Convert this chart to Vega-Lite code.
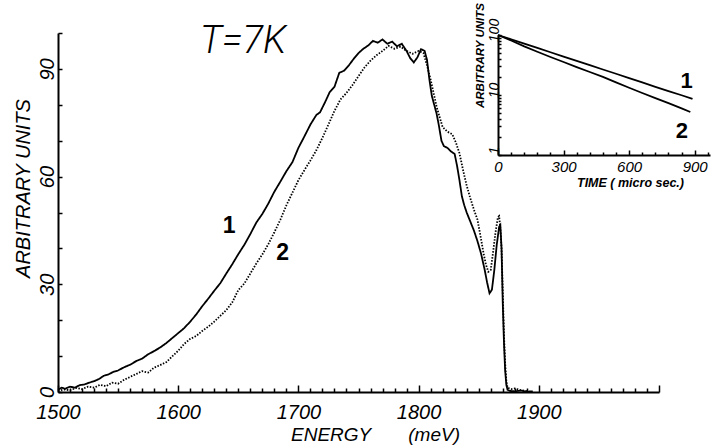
{
  "$schema": "https://vega.github.io/schema/vega-lite/v6.json",
  "width": 601,
  "height": 359,
  "autosize": {"type": "none"},
  "padding": {"left": 58, "top": 33, "right": 56, "bottom": 56},
  "background": "white",
  "config": {
    "view": {"stroke": null},
    "axis": {
      "grid": false,
      "domainColor": "black",
      "domainWidth": 2,
      "tickColor": "black",
      "tickWidth": 1.5,
      "labelColor": "black",
      "titleColor": "black",
      "labelFont": "Liberation Sans",
      "labelFontStyle": "italic",
      "titleFont": "Liberation Sans",
      "titleFontStyle": "italic",
      "titleFontWeight": "normal",
      "labelFlush": false,
      "labelOverlap": false,
      "labelBound": false
    }
  },
  "datasets": {
    "spectrum": [
      {"series": "1", "E": 1500, "V": 0.6}, {"series": "1", "E": 1503, "V": 1.2}, {"series": "1", "E": 1506, "V": 0.9}, {"series": "1", "E": 1510, "V": 1.5},
      {"series": "1", "E": 1514, "V": 1.2}, {"series": "1", "E": 1518, "V": 1.9}, {"series": "1", "E": 1522, "V": 2.1}, {"series": "1", "E": 1526, "V": 2.6},
      {"series": "1", "E": 1530, "V": 3.0}, {"series": "1", "E": 1534, "V": 3.6}, {"series": "1", "E": 1538, "V": 4.5}, {"series": "1", "E": 1542, "V": 4.9},
      {"series": "1", "E": 1546, "V": 5.6}, {"series": "1", "E": 1550, "V": 6.0}, {"series": "1", "E": 1555, "V": 6.9}, {"series": "1", "E": 1560, "V": 7.6},
      {"series": "1", "E": 1565, "V": 8.6}, {"series": "1", "E": 1570, "V": 9.3}, {"series": "1", "E": 1575, "V": 10.5}, {"series": "1", "E": 1580, "V": 11.4},
      {"series": "1", "E": 1585, "V": 12.4}, {"series": "1", "E": 1590, "V": 13.6}, {"series": "1", "E": 1595, "V": 15.0}, {"series": "1", "E": 1600, "V": 16.4},
      {"series": "1", "E": 1605, "V": 17.8}, {"series": "1", "E": 1610, "V": 19.6}, {"series": "1", "E": 1615, "V": 21.6}, {"series": "1", "E": 1620, "V": 23.9},
      {"series": "1", "E": 1625, "V": 26.0}, {"series": "1", "E": 1630, "V": 28.2}, {"series": "1", "E": 1635, "V": 30.3}, {"series": "1", "E": 1640, "V": 33.0},
      {"series": "1", "E": 1645, "V": 35.6}, {"series": "1", "E": 1650, "V": 38.4}, {"series": "1", "E": 1655, "V": 41.0}, {"series": "1", "E": 1660, "V": 44.0},
      {"series": "1", "E": 1665, "V": 47.2}, {"series": "1", "E": 1670, "V": 49.6}, {"series": "1", "E": 1675, "V": 52.5}, {"series": "1", "E": 1680, "V": 55.8},
      {"series": "1", "E": 1685, "V": 58.6}, {"series": "1", "E": 1690, "V": 61.5}, {"series": "1", "E": 1695, "V": 64.0}, {"series": "1", "E": 1700, "V": 68.0},
      {"series": "1", "E": 1705, "V": 71.2}, {"series": "1", "E": 1710, "V": 74.5}, {"series": "1", "E": 1715, "V": 77.2}, {"series": "1", "E": 1718, "V": 77.9},
      {"series": "1", "E": 1722, "V": 80.6}, {"series": "1", "E": 1726, "V": 83.5}, {"series": "1", "E": 1730, "V": 85.0}, {"series": "1", "E": 1734, "V": 88.9},
      {"series": "1", "E": 1738, "V": 89.5}, {"series": "1", "E": 1742, "V": 91.0}, {"series": "1", "E": 1746, "V": 92.8}, {"series": "1", "E": 1750, "V": 94.4},
      {"series": "1", "E": 1754, "V": 95.6}, {"series": "1", "E": 1758, "V": 96.5}, {"series": "1", "E": 1762, "V": 97.8}, {"series": "1", "E": 1766, "V": 97.3},
      {"series": "1", "E": 1770, "V": 98.2}, {"series": "1", "E": 1774, "V": 97.0}, {"series": "1", "E": 1778, "V": 97.6}, {"series": "1", "E": 1782, "V": 96.3},
      {"series": "1", "E": 1786, "V": 97.0}, {"series": "1", "E": 1790, "V": 95.0}, {"series": "1", "E": 1793, "V": 93.0}, {"series": "1", "E": 1796, "V": 91.8},
      {"series": "1", "E": 1799, "V": 93.2}, {"series": "1", "E": 1802, "V": 95.5}, {"series": "1", "E": 1805, "V": 95.0}, {"series": "1", "E": 1807, "V": 92.5},
      {"series": "1", "E": 1809, "V": 87.0}, {"series": "1", "E": 1811, "V": 82.5}, {"series": "1", "E": 1813, "V": 80.0}, {"series": "1", "E": 1815, "V": 77.5},
      {"series": "1", "E": 1817, "V": 74.0}, {"series": "1", "E": 1819, "V": 70.0}, {"series": "1", "E": 1821, "V": 68.5}, {"series": "1", "E": 1824, "V": 68.0},
      {"series": "1", "E": 1827, "V": 67.0}, {"series": "1", "E": 1830, "V": 66.3}, {"series": "1", "E": 1832, "V": 63.0}, {"series": "1", "E": 1834, "V": 59.0},
      {"series": "1", "E": 1836, "V": 54.5}, {"series": "1", "E": 1838, "V": 52.0}, {"series": "1", "E": 1840, "V": 50.0}, {"series": "1", "E": 1843, "V": 47.5},
      {"series": "1", "E": 1846, "V": 45.0}, {"series": "1", "E": 1849, "V": 42.0}, {"series": "1", "E": 1852, "V": 38.5}, {"series": "1", "E": 1855, "V": 34.0},
      {"series": "1", "E": 1857, "V": 30.5}, {"series": "1", "E": 1859, "V": 27.5}, {"series": "1", "E": 1861, "V": 28.5}, {"series": "1", "E": 1863, "V": 34.0},
      {"series": "1", "E": 1865, "V": 41.0}, {"series": "1", "E": 1867, "V": 46.0}, {"series": "1", "E": 1868, "V": 46.5}, {"series": "1", "E": 1869, "V": 40.0},
      {"series": "1", "E": 1870, "V": 25.0}, {"series": "1", "E": 1871, "V": 14.0}, {"series": "1", "E": 1872, "V": 6.0}, {"series": "1", "E": 1873, "V": 2.0},
      {"series": "1", "E": 1874, "V": 0.6}, {"series": "1", "E": 1876, "V": 0.3}, {"series": "1", "E": 1880, "V": 0.2}, {"series": "1", "E": 1885, "V": 0.4},
      {"series": "1", "E": 1890, "V": 0.1}, {"series": "1", "E": 1895, "V": 0.2},
      {"series": "2", "E": 1500, "V": 0.3}, {"series": "2", "E": 1505, "V": 0.7}, {"series": "2", "E": 1510, "V": 0.5}, {"series": "2", "E": 1515, "V": 1.1},
      {"series": "2", "E": 1520, "V": 0.8}, {"series": "2", "E": 1525, "V": 1.5}, {"series": "2", "E": 1530, "V": 1.2}, {"series": "2", "E": 1535, "V": 2.0},
      {"series": "2", "E": 1540, "V": 1.6}, {"series": "2", "E": 1545, "V": 2.6}, {"series": "2", "E": 1550, "V": 2.3}, {"series": "2", "E": 1555, "V": 3.4},
      {"series": "2", "E": 1560, "V": 4.2}, {"series": "2", "E": 1565, "V": 5.0}, {"series": "2", "E": 1570, "V": 5.8}, {"series": "2", "E": 1575, "V": 5.4},
      {"series": "2", "E": 1580, "V": 6.8}, {"series": "2", "E": 1585, "V": 7.5}, {"series": "2", "E": 1590, "V": 8.3}, {"series": "2", "E": 1595, "V": 9.9},
      {"series": "2", "E": 1600, "V": 11.5}, {"series": "2", "E": 1605, "V": 13.4}, {"series": "2", "E": 1610, "V": 14.8}, {"series": "2", "E": 1615, "V": 15.6},
      {"series": "2", "E": 1620, "V": 17.0}, {"series": "2", "E": 1625, "V": 18.2}, {"series": "2", "E": 1630, "V": 19.6}, {"series": "2", "E": 1635, "V": 21.2},
      {"series": "2", "E": 1640, "V": 22.8}, {"series": "2", "E": 1645, "V": 25.0}, {"series": "2", "E": 1650, "V": 28.4}, {"series": "2", "E": 1655, "V": 30.2},
      {"series": "2", "E": 1660, "V": 33.0}, {"series": "2", "E": 1665, "V": 35.8}, {"series": "2", "E": 1670, "V": 38.3}, {"series": "2", "E": 1675, "V": 41.2},
      {"series": "2", "E": 1680, "V": 44.5}, {"series": "2", "E": 1685, "V": 48.0}, {"series": "2", "E": 1690, "V": 52.0}, {"series": "2", "E": 1695, "V": 55.5},
      {"series": "2", "E": 1700, "V": 59.0}, {"series": "2", "E": 1705, "V": 61.8}, {"series": "2", "E": 1710, "V": 64.5}, {"series": "2", "E": 1715, "V": 67.4},
      {"series": "2", "E": 1720, "V": 70.8}, {"series": "2", "E": 1725, "V": 74.5}, {"series": "2", "E": 1730, "V": 78.3}, {"series": "2", "E": 1735, "V": 81.5},
      {"series": "2", "E": 1740, "V": 83.3}, {"series": "2", "E": 1745, "V": 85.5}, {"series": "2", "E": 1750, "V": 88.0}, {"series": "2", "E": 1755, "V": 90.4},
      {"series": "2", "E": 1760, "V": 92.3}, {"series": "2", "E": 1765, "V": 93.8}, {"series": "2", "E": 1770, "V": 95.0}, {"series": "2", "E": 1775, "V": 96.4},
      {"series": "2", "E": 1780, "V": 95.6}, {"series": "2", "E": 1785, "V": 96.2}, {"series": "2", "E": 1790, "V": 95.0}, {"series": "2", "E": 1795, "V": 94.2},
      {"series": "2", "E": 1800, "V": 95.0}, {"series": "2", "E": 1804, "V": 94.4}, {"series": "2", "E": 1807, "V": 91.0}, {"series": "2", "E": 1810, "V": 87.0},
      {"series": "2", "E": 1813, "V": 82.5}, {"series": "2", "E": 1815, "V": 79.4}, {"series": "2", "E": 1818, "V": 76.0}, {"series": "2", "E": 1820, "V": 73.8},
      {"series": "2", "E": 1824, "V": 72.5}, {"series": "2", "E": 1828, "V": 71.8}, {"series": "2", "E": 1831, "V": 69.5}, {"series": "2", "E": 1834, "V": 66.5},
      {"series": "2", "E": 1837, "V": 61.8}, {"series": "2", "E": 1840, "V": 57.5}, {"series": "2", "E": 1843, "V": 54.0}, {"series": "2", "E": 1846, "V": 50.8},
      {"series": "2", "E": 1849, "V": 48.0}, {"series": "2", "E": 1852, "V": 42.5}, {"series": "2", "E": 1854, "V": 38.7}, {"series": "2", "E": 1856, "V": 35.5},
      {"series": "2", "E": 1858, "V": 33.5}, {"series": "2", "E": 1860, "V": 34.0}, {"series": "2", "E": 1862, "V": 39.0}, {"series": "2", "E": 1864, "V": 44.5},
      {"series": "2", "E": 1866, "V": 48.7}, {"series": "2", "E": 1867, "V": 49.0}, {"series": "2", "E": 1868, "V": 45.5}, {"series": "2", "E": 1869, "V": 40.0},
      {"series": "2", "E": 1870, "V": 28.0}, {"series": "2", "E": 1871, "V": 16.0}, {"series": "2", "E": 1872, "V": 8.0}, {"series": "2", "E": 1873, "V": 3.0},
      {"series": "2", "E": 1874, "V": 1.2}, {"series": "2", "E": 1877, "V": 0.8}, {"series": "2", "E": 1880, "V": 1.0}, {"series": "2", "E": 1885, "V": 0.5},
      {"series": "2", "E": 1890, "V": 0.3}
    ],
    "decay": [
      {"series": "1", "t": 0, "v": 100}, {"series": "1", "t": 60, "v": 84.7}, {"series": "1", "t": 120, "v": 71.8}, {"series": "1", "t": 180, "v": 60.8},
      {"series": "1", "t": 240, "v": 51.6}, {"series": "1", "t": 300, "v": 43.7}, {"series": "1", "t": 360, "v": 37.1}, {"series": "1", "t": 420, "v": 31.4},
      {"series": "1", "t": 480, "v": 26.6}, {"series": "1", "t": 540, "v": 22.6}, {"series": "1", "t": 600, "v": 19.1}, {"series": "1", "t": 660, "v": 16.2},
      {"series": "1", "t": 720, "v": 13.7}, {"series": "1", "t": 780, "v": 11.6}, {"series": "1", "t": 840, "v": 9.9}, {"series": "1", "t": 890, "v": 8.6},
      {"series": "2", "t": 0, "v": 100}, {"series": "2", "t": 60, "v": 81}, {"series": "2", "t": 120, "v": 64.5}, {"series": "2", "t": 180, "v": 52.5},
      {"series": "2", "t": 240, "v": 43}, {"series": "2", "t": 300, "v": 35.5}, {"series": "2", "t": 360, "v": 29.2}, {"series": "2", "t": 420, "v": 24.2},
      {"series": "2", "t": 480, "v": 20}, {"series": "2", "t": 540, "v": 16.2}, {"series": "2", "t": 600, "v": 13.2}, {"series": "2", "t": 660, "v": 10.8},
      {"series": "2", "t": 720, "v": 8.9}, {"series": "2", "t": 780, "v": 7.3}, {"series": "2", "t": 840, "v": 6.0}, {"series": "2", "t": 880, "v": 5.2}
    ]
  },
  "layer": [
    {
      "encoding": {
        "x": {
          "field": "E", "type": "quantitative",
          "scale": {"domain": [1500, 2000], "nice": false, "zero": false},
          "axis": {
            "title": "ENERGY\u00a0\u00a0\u00a0\u00a0\u00a0\u00a0\u00a0(meV)",
            "titleX": 317, "titleY": 48, "titleBaseline": "alphabetic", "titleAlign": "center", "titleFontSize": 19,
            "values": [1500,1510,1520,1530,1540,1550,1560,1570,1580,1590,1600,1610,1620,1630,1640,1650,1660,1670,1680,1690,1700,1710,1720,1730,1740,1750,1760,1770,1780,1790,1800,1810,1820,1830,1840,1850,1860,1870,1880,1890,1900,1910,1920,1930,1940,1950,1960,1970,1980,1990,2000],
            "format": "d",
            "labelExpr": "datum.value % 100 === 0 && datum.value < 2000 ? datum.label : ''",
            "tickSize": {"condition": {"test": "datum.value % 100 === 0", "value": -7}, "value": -4},
            "labelPadding": 33, "labelBaseline": "alphabetic", "labelFontSize": 20
          }
        },
        "y": {
          "field": "V", "type": "quantitative",
          "scale": {"domain": [0, 100], "nice": false},
          "axis": {
            "title": "ARBITRARY UNITS",
            "titleX": -35, "titleY": 155, "titleAngle": -90, "titleAlign": "center", "titleBaseline": "middle", "titleFontSize": 20,
            "values": [0,10,20,30,40,50,60,70,80,90,100],
            "labelExpr": "datum.value % 30 === 0 && datum.value < 100 ? datum.label : ''",
            "tickSize": -4,
            "labelPadding": 9, "labelAngle": -90, "labelAlign": "center", "labelBaseline": "alphabetic", "labelFontSize": 20
          }
        }
      },
      "layer": [
        {
          "data": {"name": "spectrum"},
          "mark": {"type": "line", "color": "black", "strokeWidth": 1.8},
          "encoding": {
            "strokeDash": {"field": "series", "type": "nominal", "scale": {"domain": ["1", "2"], "range": [[1, 0], [1.5, 1.5]]}, "legend": null}
          }
        },
        {
          "data": {"values": [{"E": 1654, "V": 94.4, "label": "T=7K"}]},
          "mark": {"type": "text", "font": "Roboto", "fontStyle": "italic", "fontWeight": 300, "fontSize": 38, "align": "center", "baseline": "alphabetic", "color": "black"},
          "encoding": {"text": {"field": "label"}}
        },
        {
          "data": {"values": [{"E": 1642.3, "V": 44.3, "label": "1"}, {"E": 1686.8, "V": 36.8, "label": "2"}]},
          "mark": {"type": "text", "font": "Liberation Sans", "fontWeight": "bold", "fontSize": 23, "align": "center", "baseline": "alphabetic", "color": "black"},
          "encoding": {"text": {"field": "label"}}
        }
      ]
    },
    {
      "encoding": {
        "x": {
          "field": "t", "type": "quantitative",
          "scale": {"domain": [0, 970], "range": [440, 652], "nice": false, "zero": false},
          "axis": {
            "orient": "bottom", "offset": -237,
            "title": "TIME ( micro sec.)",
            "titleX": 572, "titleY": 27, "titleAlign": "center", "titleBaseline": "middle", "titleFontSize": 12.5, "titleFontWeight": "bold",
            "values": [0,60,120,180,240,300,360,420,480,540,600,660,720,780,840,900,960],
            "format": "d",
            "labelExpr": "datum.value % 300 === 0 ? datum.label : ''",
            "tickSize": {"condition": {"test": "datum.value % 300 === 0", "value": -5}, "value": -3},
            "labelPadding": 21, "labelBaseline": "alphabetic", "labelFontSize": 15
          }
        },
        "y": {
          "field": "v", "type": "quantitative",
          "scale": {"type": "log", "domain": [1, 100], "range": [122, 2], "nice": false},
          "axis": {
            "orient": "left", "offset": -440,
            "title": "ARBITRARY UNITS",
            "titleX": -18, "titleY": 22, "titleAngle": -90, "titleAlign": "center", "titleBaseline": "middle", "titleFontSize": 11.5, "titleFontWeight": "bold",
            "values": [1,2,3,4,5,6,7,8,9,10,20,30,40,50,60,70,80,90,100],
            "labelExpr": "datum.value === 1 || datum.value === 10 || datum.value === 100 ? format(datum.value, 'd') : ''",
            "tickSize": -3,
            "labelPadding": 3, "labelAngle": -90, "labelAlign": "center", "labelBaseline": "alphabetic", "labelFontSize": 14, "labelOffset": -5
          }
        }
      },
      "layer": [
        {
          "data": {"name": "decay"},
          "mark": {"type": "line", "color": "black", "strokeWidth": 1.8},
          "encoding": {"detail": {"field": "series"}}
        },
        {
          "data": {"values": [{"t": 863, "v": 13.1, "label": "1"}, {"t": 841, "v": 1.92, "label": "2"}]},
          "mark": {"type": "text", "font": "Liberation Sans", "fontWeight": "bold", "fontSize": 22, "align": "center", "baseline": "alphabetic", "color": "black"},
          "encoding": {"text": {"field": "label"}}
        }
      ]
    }
  ],
  "resolve": {"scale": {"x": "independent", "y": "independent"}}
}
